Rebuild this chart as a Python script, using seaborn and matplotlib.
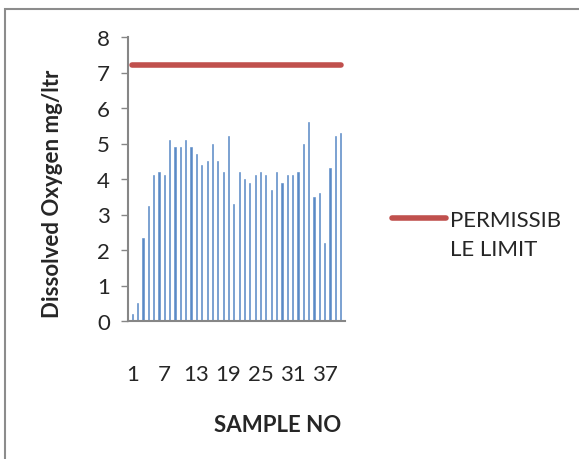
import matplotlib
matplotlib.use("Agg")
import matplotlib.pyplot as plt
import seaborn as sns
import pandas as pd
from matplotlib.patches import Rectangle

samples = list(range(1, 41))
dissolved_oxygen = [0.2, 0.5, 2.35, 3.25, 4.1, 4.2, 4.1, 5.1, 4.9, 4.9,
                    5.1, 4.9, 4.7, 4.4, 4.5, 5.0, 4.5, 4.2, 5.2, 3.3,
                    4.2, 4.0, 3.9, 4.1, 4.2, 4.1, 3.7, 4.2, 3.9, 4.1,
                    4.1, 4.2, 5.0, 5.6, 3.5, 3.6, 2.2, 4.3, 5.2, 5.3]
permissible_limit = [7.2] * 40
tick_labels = ["1", "7", "13", "19", "25", "31", "37"]

sns.set_theme(style="white")
plt.rcParams['font.family'] = ['Lato', 'DejaVu Sans']

df = pd.DataFrame({"sample": [str(s) for s in samples], "do": dissolved_oxygen,
                   "limit": permissible_limit, "pos": range(40)})

fig = plt.figure(figsize=(5.79, 4.60), dpi=100)
fig.patches.append(Rectangle((5 / 579, -0.1), 1.2, (460 - 10) / 460 + 0.1,
                             transform=fig.transFigure, fill=False,
                             edgecolor="#8c8c8c", linewidth=1.5))
ax = fig.add_axes([128 / 579, 138 / 460, 217 / 579, 284 / 460])

sns.barplot(data=df, x="sample", y="do", color="#5A8AC6", width=0.22,
            saturation=1, ax=ax, zorder=2, edgecolor="#5A8AC6", linewidth=0.4)
sns.lineplot(data=df, x="pos", y="limit", color="#C0504D", linewidth=4,
             ax=ax, label="PERMISSIB", zorder=3)

ax.set_xlim(-0.8, 39.8)
ax.set_ylim(0, 8)
ax.set_yticks(range(0, 9))
ax.set_xticks([samples.index(int(t)) for t in tick_labels])
ax.set_xticklabels(tick_labels)
ax.tick_params(axis="y", which="major", direction="out", length=5, width=1,
               color="#868686", labelsize=16, pad=8, left=True)
ax.tick_params(axis="x", length=0, labelsize=16, pad=31)
for s in ["top", "right"]:
    ax.spines[s].set_visible(False)
for s in ["left", "bottom"]:
    ax.spines[s].set_color("#868686")
    ax.spines[s].set_linewidth(1.5)
ax.set_xlabel("SAMPLE NO", fontsize=16, fontweight="bold")
ax.xaxis.set_label_coords((278 - 128) / 217, -(425 - 322) / 284)
ax.xaxis.label.set_va("center")
ax.set_ylabel("Dissolved Oxygen mg/ltr", fontsize=16, fontweight="bold")
ax.yaxis.set_label_coords((53 - 128) / 217, (322 - 194) / 284)
ax.yaxis.label.set_va("center")

leg = ax.legend(loc="center left", bbox_to_anchor=(384 / 579 - 0.005, 1 - 221 / 460),
                bbox_transform=fig.transFigure, frameon=False, borderpad=0,
                fontsize=16, handlelength=2.4, handletextpad=0.2)
leg.get_lines()[0].set_solid_capstyle("round")
fig.canvas.draw()
first = leg.get_texts()[0]
bb = first.get_window_extent()
fig.text(bb.x0 / fig.bbox.width, 1 - 250 / 460, "LE LIMIT", fontsize=16,
         va="center", ha="left")

fig.savefig("out.png", dpi=100)
